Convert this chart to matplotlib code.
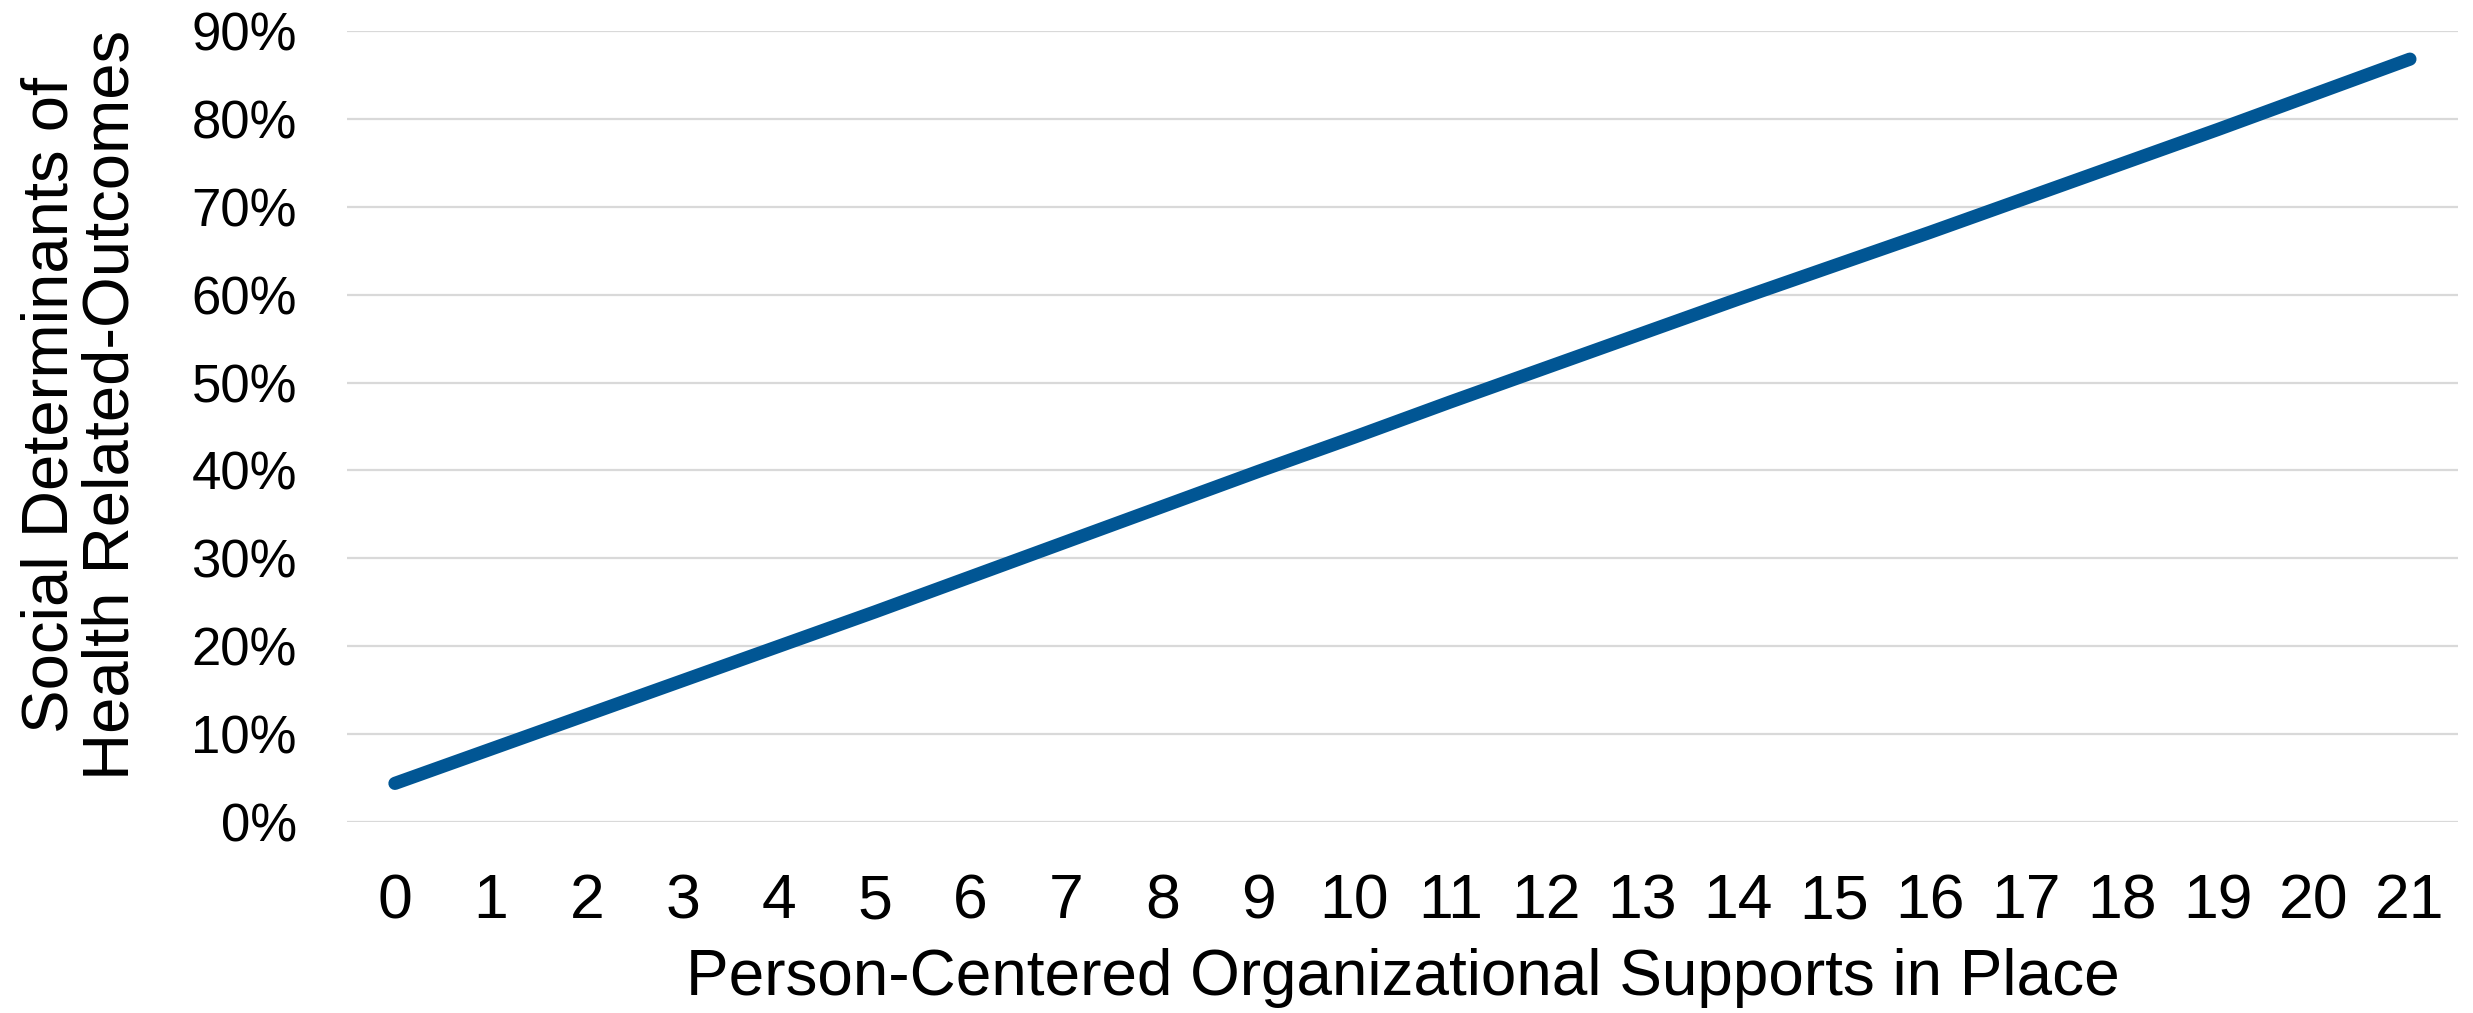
import matplotlib
matplotlib.use("Agg")
import matplotlib.pyplot as plt
from matplotlib.ticker import PercentFormatter

plt.rcParams.update({
    "font.family": ["Liberation Sans", "DejaVu Sans"],
})

# ---- data (predicted %, per number of supports) ----
supports = list(range(0, 22))
outcome_pct = [4.4, 8.3, 12.2, 16.1, 20.0, 23.9, 27.9, 31.9, 35.9, 39.9, 43.8,
               47.8, 51.7, 55.6, 59.5, 63.3, 67.1, 71.0, 74.9, 78.8, 82.8, 86.8]
y_ticks = [0, 10, 20, 30, 40, 50, 60, 70, 80, 90]

X_LABEL = "Person-Centered Organizational Supports in Place"
Y_LABEL = "Social Determinants of\nHealth Related-Outcomes"

LINE_COLOR = "#015694"
GRID_COLOR = "#d9d9d9"

fig = plt.figure(figsize=(24.73, 10.13), dpi=100)
ax = fig.add_axes([0.1403, 0.1885, 0.8536, 0.7809])

ax.plot(supports, outcome_pct, color=LINE_COLOR, linewidth=9.5,
        solid_capstyle="round", zorder=3)

ax.set_xlim(-0.5, 21.5)
ax.set_ylim(0, 90)
ax.set_xticks(supports)
ax.set_xticklabels([str(s) for s in supports])
ax.set_yticks(y_ticks)
ax.yaxis.set_major_formatter(PercentFormatter(xmax=100, decimals=0))

ax.grid(axis="y", color=GRID_COLOR, linewidth=1.6, zorder=0)
ax.set_axisbelow(True)
for sp in ax.spines.values():
    sp.set_visible(False)

ax.tick_params(axis="x", length=0, pad=36, labelsize=45)
ax.tick_params(axis="y", length=0, pad=36, labelsize=38)

ax.set_xlabel(X_LABEL, fontsize=46, va="center")
ax.xaxis.set_label_coords(0.5, -0.197)
ax.set_ylabel(Y_LABEL, fontsize=47, va="center", linespacing=1.02)
ax.yaxis.set_label_coords(-0.126, 0.527)

fig.savefig("out.png", dpi=100, facecolor="white")
